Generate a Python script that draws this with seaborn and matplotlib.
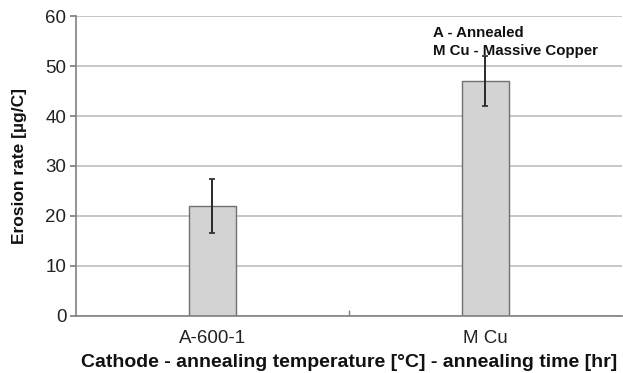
import matplotlib
matplotlib.use("Agg")
import matplotlib.pyplot as plt
import seaborn as sns
import pandas as pd
from matplotlib.ticker import FixedLocator

categories = ["A-600-1", "M Cu"]
erosion_rate = [22.0, 47.0]
error_up = [5.4, 5.0]
error_down = [5.4, 5.0]

sns.set_theme(style="white")
plt.rcParams['font.family'] = ['Liberation Sans', 'DejaVu Sans']

df = pd.DataFrame({"cat": categories, "val": erosion_rate})

fig, ax = plt.subplots(figsize=(6.23, 3.73), dpi=100)
fig.subplots_adjust(left=0.122, right=0.998, top=0.957, bottom=0.153)

sns.barplot(data=df, x="cat", y="val", ax=ax, color="#d3d3d3", width=0.17,
            edgecolor="#707070", linewidth=1.0, saturation=1)
ax.errorbar(range(len(categories)), erosion_rate, yerr=[error_down, error_up],
            fmt="none", ecolor="#2a2a2a", elinewidth=1.4, capsize=2.5, capthick=1.2)

ax.set_ylim(0, 60)
ax.set_xlim(-0.5, 1.5)
ax.set_yticks(range(0, 61, 10))
ax.yaxis.grid(True, color="#bdbdbd", linewidth=1.2)
ax.set_axisbelow(True)

for s in ["top", "right"]:
    ax.spines[s].set_visible(False)
ax.spines["left"].set_color("#808080")
ax.spines["bottom"].set_color("#808080")
ax.spines["left"].set_linewidth(1.2)
ax.spines["bottom"].set_linewidth(1.2)

ax.tick_params(axis="y", which="major", left=True, length=4, color="#808080",
               labelsize=13.5, pad=3)
ax.tick_params(axis="x", which="major", bottom=False, labelsize=13.5, pad=4)
ax.xaxis.set_minor_locator(FixedLocator([0.5]))
ax.tick_params(axis="x", which="minor", bottom=True, length=4, color="#808080", direction="in")
ax.tick_params(axis="y", labelcolor="#222222")
ax.tick_params(axis="x", labelcolor="#222222")

ax.set_xlabel("Cathode - annealing temperature [°C] - annealing time [hr]",
              fontsize=14, fontweight="bold", color="#111111", labelpad=5)
ax.set_ylabel("Erosion rate [µg/C]", fontsize=12.5, fontweight="bold", color="#111111", labelpad=13)

ax.text(0.655, 0.945, "A - Annealed", transform=ax.transAxes, fontsize=10.8,
        fontweight="bold", color="#111111", va="center")
ax.text(0.655, 0.885, "M Cu - Massive Copper", transform=ax.transAxes, fontsize=10.8,
        fontweight="bold", color="#111111", va="center")

fig.savefig("out.png", dpi=100)
